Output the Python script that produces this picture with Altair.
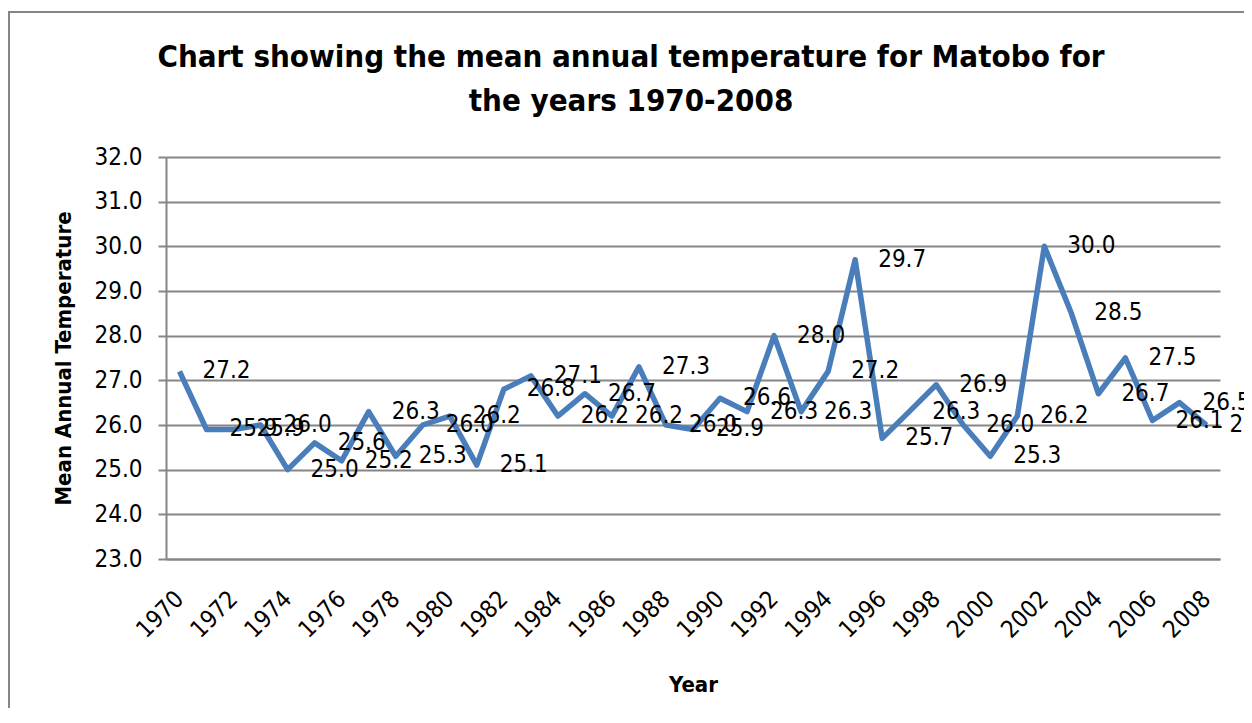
import altair as alt
import pandas as pd

years = list(range(1970, 2009))
temps = [27.2, 25.9, 25.9, 26.0, 25.0, 25.6, 25.2, 26.3, 25.3, 26.0,
         26.2, 25.1, 26.8, 27.1, 26.2, 26.7, 26.2, 27.3, 26.0, 25.9,
         26.6, 26.3, 28.0, 26.3, 27.2, 29.7, 25.7, 26.3, 26.9, 26.0,
         25.3, 26.2, 30.0, 28.5, 26.7, 27.5, 26.1, 26.5, 26.0]
year_ticks = list(range(1970, 2009, 2))
y_ticks = [23, 24, 25, 26, 27, 28, 29, 30, 31, 32]

df = pd.DataFrame({"year": years, "temp": temps})

NARROW = "'Liberation Sans Narrow', 'Arial Narrow', 'DejaVu Sans Condensed', sans-serif"
GRAY = "#868686"

x_enc = alt.X("year:O", title="Year",
              scale=alt.Scale(type="point", padding=0.5),
              axis=alt.Axis(values=year_ticks, labelAngle=-45, labelAlign="right",
                            labelBaseline="middle", labelPadding=36, ticks=False,
                            domainColor=GRAY, domainWidth=2, grid=False,
                            labelFont=NARROW, labelFontSize=24, labelColor="black",
                            titleFont=NARROW, titleFontSize=22, titleFontWeight="bold",
                            titleColor="black", titlePadding=32))
y_enc = alt.Y("temp:Q", title="Mean Annual Temperature",
              scale=alt.Scale(domain=[23, 32], nice=False, zero=False),
              axis=alt.Axis(values=y_ticks, format=".1f", tickSize=8, tickColor=GRAY,
                            tickWidth=2, domainColor=GRAY, domainWidth=2,
                            gridColor=GRAY, gridWidth=2, labelPadding=16,
                            labelFont=NARROW, labelFontSize=24, labelColor="black",
                            titleFont=NARROW, titleFontSize=22, titleFontWeight="bold",
                            titleColor="black", titlePadding=18))

base = alt.Chart(df)
line = base.mark_line(color="#4a7ebb", strokeWidth=5.5, strokeJoin="round").encode(x=x_enc, y=y_enc)
labels = base.mark_text(align="left", baseline="middle", dx=23, font=NARROW,
                        fontSize=24, color="black").encode(
    x="year:O", y="temp:Q", text=alt.Text("temp:Q", format=".1f"))

frame = alt.Chart(pd.DataFrame({"a": [0]})).mark_rect(
    fill=None, stroke=GRAY, strokeWidth=2).encode(
    x=alt.value(-157), y=alt.value(-145), x2=alt.value(2000), y2=alt.value(2000))

chart = alt.layer(frame, line, labels).properties(
    width=1054, height=402,
    autosize=alt.AutoSizeParams(type="none"),
    padding={"left": 158, "top": 149, "right": 24, "bottom": 149},
    title=alt.TitleParams(
        text=["Chart showing the mean annual temperature for Matobo for", "the years 1970-2008"],
        font=NARROW, fontSize=31, fontWeight="bold", color="black",
        lineHeight=44, anchor="middle", frame="group", dx=-62, dy=138, offset=0,
        baseline="bottom"),
).configure_view(stroke=None)

chart.save("out.html", embed_options={"renderer": "svg", "actions": False})
